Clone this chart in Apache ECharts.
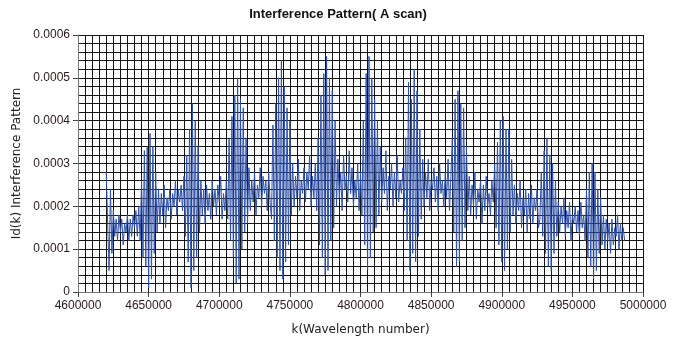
<!DOCTYPE html>
<html>
<head>
<meta charset="utf-8">
<script src="https://cdn.jsdelivr.net/npm/echarts@6/dist/echarts.min.js"></script>
<style>
  html, body { margin: 0; padding: 0; background: #fff; }
  #chart { width: 676px; height: 341px; }
</style>
</head>
<body>
<div id="chart"></div>
<script>
// sample grid of the A scan (k axis)
const kStart = 4620000
const kStep = 1000
// Id(k), in units of 1e-5
const idE5 = [
  28, 16, 5, 24, 9, 19, 13, 17, 12, 18, 14, 17, 11, 16, 14, 18, 12, 17, 13, 18, 15, 19, 13, 20,
  12, 26, 8, 33, 6, 34, 1, 37, 3, 34, 9, 28,
  14, 24, 16, 23, 18, 25, 15, 22, 19, 24, 17, 23, 20, 26, 18, 24, 21, 25, 19, 27,
  13, 32, 7, 38, 1, 44, 5, 40, 8, 34, 14,
  26, 18, 24, 16, 25, 19, 23, 17, 26, 20, 24, 18, 25, 21, 27, 17, 23, 19, 26,
  17, 36, 12, 41, 8, 46, 2, 50, 3, 45, 10, 43, 14, 36, 16,
  29, 19, 26, 21, 28, 18, 25, 22, 29, 20, 27, 23, 26, 19, 28, 21,
  17, 39, 12, 44, 8, 50, 5, 54, 3, 48, 7, 43, 11, 40,
  18, 30, 20, 27, 22, 31, 19, 26, 23, 29, 21, 28, 24, 32, 20, 27, 22, 30, 19,
  36, 11, 46, 8, 51, 4, 55, 5, 50, 12, 47, 15, 40,
  20, 31, 22, 28, 19, 32, 24, 27, 21, 33, 23, 29, 20, 26, 22, 30, 19, 28,
  18, 40, 11, 51, 5, 55, 8, 50, 14, 45, 15, 40, 18, 34,
  21, 29, 23, 33, 19, 27, 24, 30, 20, 28, 22, 32, 21, 26, 23, 29, 19,
  36, 12, 49, 5, 45, 9, 52, 7, 47, 13, 38, 17, 31,
  20, 28, 22, 31, 19, 26, 24, 29, 21, 27, 19, 30, 23, 26, 20, 28, 22, 31, 19, 27,
  36, 14, 45, 6, 47, 7, 44, 12, 43, 15, 34, 19,
  27, 18, 25, 20, 28, 17, 24, 21, 26, 16, 25, 19, 27, 20, 23, 18, 26, 21,
  30, 15, 35, 11, 40, 7, 41, 5, 38, 10, 38, 14, 31,
  18, 25, 16, 23, 19, 26, 15, 22, 18, 24, 14, 23, 17, 25, 16, 22, 19, 24, 15,
  17, 28, 13, 33, 9, 36, 6, 32, 5, 30, 9, 26, 13,
  21, 14, 20, 16, 22, 13, 19, 15, 21, 12, 18, 16, 20, 14, 19, 13, 21, 15, 18,
  12, 24, 8, 28, 6, 30, 3, 28, 5, 24, 9, 22, 11,
  18, 10, 17, 12, 16, 9, 17, 11, 15, 13, 18, 10, 16, 12, 15, 12
]
const xTicks = { min: 4600000, max: 5000000, step: 50000 }
const yTicks = { min: 0, max: 0.0006, step: 0.0001 }

const data = idE5.map((v, i) => [kStart + i * kStep, v * 1e-5])

const gridLine = { show: true, lineStyle: { color: '#141414', width: 1 } }

const option = {
  animation: false,
  backgroundColor: '#fff',
  title: {
    text: 'Interference Pattern( A scan)',
    left: 'center',
    top: 3,
    textStyle: {
      fontFamily: 'Liberation Sans Narrow, Liberation Sans, sans-serif',
      fontSize: 13,
      fontWeight: 'bold',
      color: '#111'
    }
  },
  grid: { left: 78, right: 33, top: 35, bottom: 48 },
  xAxis: {
    type: 'value',
    min: xTicks.min,
    max: xTicks.max,
    interval: xTicks.step,
    name: 'k(Wavelength number)',
    nameLocation: 'middle',
    nameGap: 32,
    nameTextStyle: { fontFamily: 'DejaVu Sans', fontSize: 12, color: '#222' },
    axisLine: { show: true, lineStyle: { color: '#777' } },
    axisTick: { show: true, length: 5, lineStyle: { color: '#444' } },
    axisLabel: {
      fontFamily: 'Liberation Sans',
      fontSize: 12,
      color: '#2a1a1a',
      margin: 8,
      formatter: v => String(v)
    },
    splitLine: gridLine,
    minorTick: { show: false, splitNumber: 10 },
    minorSplitLine: gridLine
  },
  yAxis: {
    type: 'value',
    min: yTicks.min,
    max: yTicks.max,
    interval: yTicks.step,
    name: 'Id(k) Interference Pattern',
    nameLocation: 'middle',
    nameGap: 55,
    nameTextStyle: { fontFamily: 'DejaVu Sans', fontSize: 12, color: '#222' },
    axisLine: { show: true, lineStyle: { color: '#777' } },
    axisTick: { show: true, length: 5, lineStyle: { color: '#444' } },
    axisLabel: {
      fontFamily: 'Liberation Sans',
      fontSize: 12,
      color: '#2a1a1a',
      margin: 8,
      formatter: v => v === 0 ? '0' : v.toFixed(4)
    },
    splitLine: gridLine,
    minorTick: { show: false, splitNumber: 5 },
    minorSplitLine: gridLine
  },
  series: [
    {
      type: 'line',
      data: data,
      showSymbol: false,
      lineStyle: { color: '#2f50a8', width: 1 }
    }
  ]
}

const myChart = echarts.init(document.getElementById('chart'))
myChart.setOption(option)
</script>
</body>
</html>
